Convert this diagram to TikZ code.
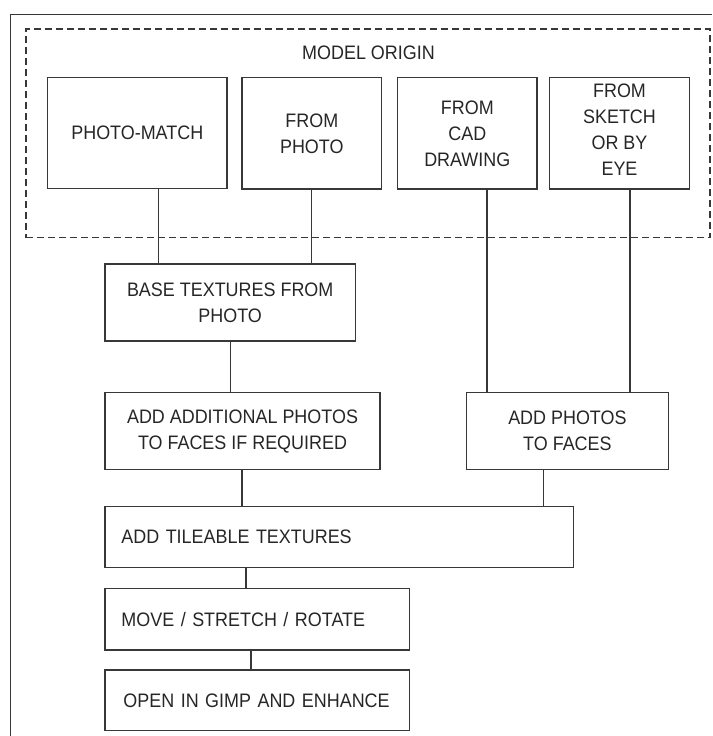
\documentclass[tikz,border=0pt]{standalone}
\usepackage{fontspec}
\setmainfont{Liberation Sans}[FakeStretch=0.92]
\begin{document}
\begin{tikzpicture}[x=1pt,y=-1pt,
  line width=1.2pt,
  every node/.style={font=\fontsize{19.5}{26}\selectfont, text=black!85},
  lc/.style={draw=black!78},
  cbox/.style={lc, rectangle, inner sep=0pt, align=center},
  lbox/.style={lc, rectangle, inner xsep=16.5pt, inner ysep=0pt, align=left},
  groupbox/.style={lc, rectangle, dash pattern=on 7pt off 4pt, inner sep=0pt},
  conn/.style={lc}
]
\useasboundingbox (0,0) rectangle (712,736);
% outer frame (partially visible)
\coordinate (frameBL) at (10.5,736);
\coordinate (frameTL) at (10.5,14.7);
\coordinate (frameTR) at (712,14.7);
\draw[lc] (frameBL) -- (frameTL) -- (frameTR);

% model origin group
\node[groupbox, minimum width=684pt, minimum height=208.7pt] (origin) at (368,133.35) {};
\node (originlabel) at (368.5,53) {MODEL ORIGIN};

\node[cbox, minimum width=179.3pt, minimum height=111pt] (pm) at (137.3,133.1) {PHOTO-MATCH};
\node[cbox, minimum width=139.7pt, minimum height=111.3pt] (fp) at (311.8,133.3) {FROM\\PHOTO};
\node[cbox, minimum width=139.3pt, minimum height=111.3pt] (cad) at (467.3,133.3) {FROM\\CAD\\DRAWING};
\node[cbox, minimum width=139.6pt, minimum height=111.3pt] (sk) at (619.5,133.3) {};
\node[align=center, inner sep=0pt] (sktext) at (619.5,130) {FROM\\SKETCH\\OR BY\\EYE};

\node[cbox, minimum width=250.5pt, minimum height=77pt] (base) at (230.2,302.5) {BASE TEXTURES FROM\\PHOTO};
\node[cbox, minimum width=275pt, minimum height=77pt] (addadd) at (242.5,431.2) {ADD ADDITIONAL PHOTOS\\TO FACES IF REQUIRED};
\node[cbox, minimum width=202.4pt, minimum height=77pt] (addph) at (567.4,431.2) {ADD PHOTOS\\TO FACES};

\node[lbox, text width={468.4pt-33pt}, minimum height=61pt] (tile) at (339.1,537.2) {ADD TILEABLE TEXTURES};
\node[lbox, text width={304.5pt-33pt}, minimum height=61.7pt] (move) at (257.2,619.2) {MOVE / STRETCH / ROTATE};
\node[lbox, text width={304.5pt-37pt}, minimum height=60.7pt, inner xsep=18.5pt] (open) at (257.2,700.3) {OPEN IN GIMP AND ENHANCE};

% connector x positions
\coordinate (x1) at (158.3,0);
\coordinate (x2) at (311.7,0);
\coordinate (x3) at (487,0);
\coordinate (x4) at (630,0);
\coordinate (x5) at (230.1,0);
\coordinate (x6) at (242,0);
\coordinate (x7) at (543.8,0);
\coordinate (x8) at (246,0);
\coordinate (x9) at (251,0);

\draw[conn] (pm.south -| x1) -- (base.north -| x1);
\draw[conn] (fp.south -| x2) -- (base.north -| x2);
\draw[conn] (cad.south -| x3) -- (addph.north -| x3);
\draw[conn] (sk.south -| x4) -- (addph.north -| x4);
\draw[conn] (base.south -| x5) -- (addadd.north -| x5);
\draw[conn] (addadd.south -| x6) -- (tile.north -| x6);
\draw[conn] (addph.south -| x7) -- (tile.north -| x7);
\draw[conn] (tile.south -| x8) -- (move.north -| x8);
\draw[conn] (move.south -| x9) -- (open.north -| x9);
\end{tikzpicture}
\end{document}
